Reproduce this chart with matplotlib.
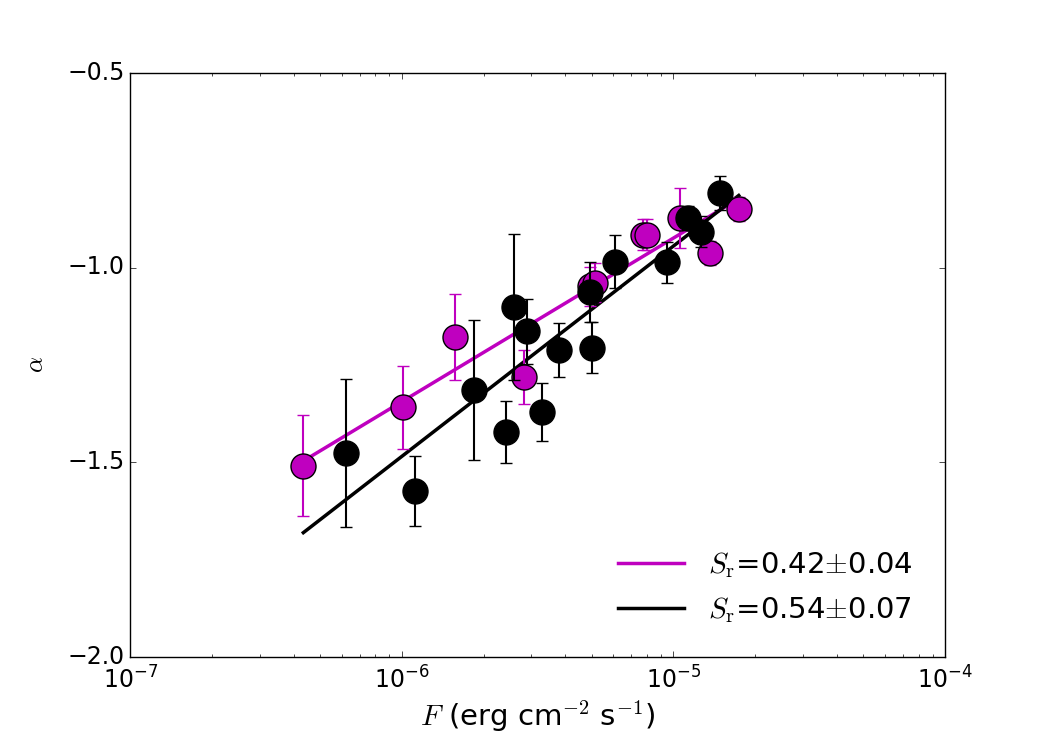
import numpy as np
import matplotlib
matplotlib.use('Agg')
import matplotlib.pyplot as plt
from matplotlib.ticker import MultipleLocator

plt.style.use('classic')

# magenta sample
mag_F = [4.34e-7, 1.01e-6, 1.57e-6, 2.82e-6, 4.93e-6, 5.15e-6, 7.75e-6, 7.97e-6, 1.06e-5, 1.36e-5, 1.74e-5]
mag_a = [-1.509, -1.359, -1.178, -1.281, -1.048, -1.039, -0.916, -0.916, -0.873, -0.963, -0.850]
mag_err = [0.13, 0.107, 0.11, 0.07, 0.05, 0.05, 0.04, 0.04, 0.077, 0.03, 0.03]

# black sample
blk_F = [6.22e-7, 1.12e-6, 1.85e-6, 2.42e-6, 2.59e-6, 2.90e-6, 3.27e-6, 3.79e-6,
         4.93e-6, 5.0e-6, 6.1e-6, 9.5e-6, 1.13e-5, 1.26e-5, 1.49e-5]
blk_a = [-1.475, -1.573, -1.314, -1.422, -1.102, -1.164, -1.371, -1.212,
         -1.062, -1.206, -0.985, -0.987, -0.873, -0.908, -0.809]
blk_err = [0.19, 0.09, 0.18, 0.08, 0.187, 0.084, 0.074, 0.069,
           0.077, 0.066, 0.068, 0.053, 0.03, 0.04, 0.043]

# fits: alpha = slope*log10(F) + icpt
mag_slope, mag_icpt = 0.42, 1.1755
blk_slope, blk_icpt = 0.54, 1.755
labels = [r'$S_{\rm r}$=0.42$\pm$0.04', r'$S_{\rm r}$=0.54$\pm$0.07']

fig = plt.figure(figsize=(10.5, 7.5), dpi=100)
ax = fig.add_subplot(111)
fig.subplots_adjust(left=0.124, right=0.9, bottom=0.124, top=0.903)

Fmin = min(min(mag_F), min(blk_F))
Fmax = max(max(mag_F), max(blk_F))
xx = np.array([Fmin, Fmax])
ax.plot(xx, mag_slope*np.log10(xx) + mag_icpt, color='m', lw=2.5, label=labels[0], zorder=2)
ax.plot(xx, blk_slope*np.log10(xx) + blk_icpt, color='k', lw=2.5, label=labels[1], zorder=2)

ax.errorbar(mag_F, mag_a, yerr=mag_err, fmt='o', color='m', ecolor='m', mfc='m', mec='k',
            ms=18, mew=1, capsize=4.5, elinewidth=1.5, capthick=1.5, zorder=3)
ax.errorbar(blk_F, blk_a, yerr=blk_err, fmt='o', color='k', ecolor='k', mfc='k', mec='k',
            ms=18, mew=1, capsize=4.5, elinewidth=1.5, capthick=1.5, zorder=4)

ax.set_xscale('log')
ax.set_xlim(1e-7, 1e-4)
ax.set_ylim(-2.0, -0.5)
ax.yaxis.set_major_locator(MultipleLocator(0.5))
ax.tick_params(labelsize=17)
ax.tick_params(axis='x', which='major', pad=6.5)
ax.set_xlabel(r'$F$ (erg cm$^{-2}$ s$^{-1}$)', fontsize=21, labelpad=4)
ax.set_ylabel(r'$\alpha$', fontsize=18, labelpad=14)
ax.legend(loc='lower right', frameon=False, fontsize=21, handlelength=2.26,
          handletextpad=0.82, labelspacing=0.52, borderaxespad=0.7, numpoints=1)

fig.savefig('out.png', dpi=100)
